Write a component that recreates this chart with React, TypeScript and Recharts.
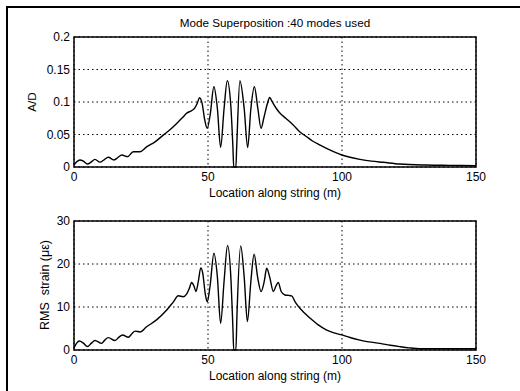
import React from 'react';
import { LineChart, Line, XAxis, YAxis, CartesianGrid, ReferenceArea } from 'recharts';

// top panel: normalised amplitude A/D along the string
const adLoc = [0, 1, 2.2, 3.5, 5, 6.5, 7.8, 9.7, 11.2, 12.8, 14.9, 16.5, 17.8, 20, 22.1, 24.6, 27.1, 30, 33.3, 36, 38.3, 40.5, 42, 44, 45.1, 46, 46.8, 47.8, 48.8, 49.7, 50.8, 52.2, 53.5, 54.7, 56, 57.2, 58.5, 59.3, 59.6, 60.4, 60.7, 61.9, 63.5, 64.8, 66, 67.3, 68.6, 69.8, 70.8, 72.2, 73, 74, 75.5, 76.9, 79, 81.8, 84, 86.8, 89, 91.8, 95, 99.9, 103, 106.7, 111, 115.4, 121.6, 131.6, 140, 150];
const adVal = [0.003, 0.008, 0.0108, 0.009, 0.0046, 0.008, 0.0118, 0.0075, 0.011, 0.0149, 0.0108, 0.015, 0.0185, 0.0159, 0.0235, 0.0235, 0.031, 0.038, 0.049, 0.058, 0.067, 0.076, 0.0826, 0.087, 0.091, 0.098, 0.1066, 0.098, 0.072, 0.0595, 0.08, 0.1235, 0.09, 0.0303, 0.09, 0.1328, 0.095, 0.03, 0, 0, 0.03, 0.1328, 0.09, 0.03, 0.09, 0.1235, 0.09, 0.0595, 0.075, 0.098, 0.107, 0.1, 0.09, 0.0826, 0.075, 0.0646, 0.055, 0.0466, 0.04, 0.0338, 0.027, 0.0185, 0.015, 0.0118, 0.009, 0.0072, 0.0046, 0.003, 0.0025, 0.002];

// bottom panel: RMS strain (microstrain)
const strainLoc = [0, 1, 2, 3.5, 5, 6.5, 7.8, 10.3, 11.5, 12.8, 15.3, 16.8, 18.1, 20.3, 21.6, 22.8, 24.6, 27.1, 30.8, 34.6, 37.1, 38.9, 40.7, 42, 43, 43.9, 44.8, 45.5, 46.4, 47.3, 48, 49, 49.7, 50.8, 52.2, 53.5, 54.7, 56, 57.3, 58.6, 59.3, 59.6, 60.4, 60.8, 62.2, 63.5, 64.7, 66, 67.2, 68.5, 69.8, 71, 71.9, 73, 74.4, 75.3, 76.2, 77.3, 78.7, 80, 81.2, 82.5, 84.3, 86, 88.1, 91, 94.3, 97, 99.9, 103, 106.7, 110, 114.2, 118, 121.6, 125, 129, 140, 150];
const strainVal = [0.5, 1.6, 2.1, 1.6, 0.8, 1.6, 2.2, 1.55, 2.3, 2.87, 2.2, 3.0, 3.5, 2.95, 3.8, 4.4, 4.2, 5.4, 7.0, 9.3, 11.2, 12.6, 12.4, 13.0, 14.3, 15.7, 14.8, 13.6, 16, 19.1, 18, 13, 11.2, 15, 22.5, 17, 6.2, 16, 24.3, 16, 5, 0, 0, 8, 24.2, 17, 6.6, 16, 22.3, 17, 13.6, 16, 19, 17, 13.6, 14.8, 15.7, 13.6, 12.8, 12.7, 12.6, 11.2, 9.7, 8.6, 7.4, 5.9, 4.65, 4.0, 3.5, 2.9, 2.3, 1.9, 1.55, 1.1, 0.77, 0.5, 0.3, 0.3, 0.3];

const xTicks = [0, 50, 100, 150];
const adTicks = [0, 0.05, 0.1, 0.15, 0.2];
const strainTicks = [0, 10, 20, 30];

const title = 'Mode Superposition :40 modes used';
const xTitle = 'Location along string (m)';

const font = '"Liberation Sans", Arial, sans-serif';
const tickStyle = { fontSize: 12, fill: '#000', fontFamily: font };

function Panel({ data, yTicks, yMax, top, height, mTop, xH }: any) {
  return (
    <div style={{ position: 'absolute', left: 0, top }}>
      <LineChart width={520} height={height} data={data} margin={{ top: mTop, right: 44, bottom: 0, left: 0 }}>
        <CartesianGrid stroke="#000" strokeDasharray="1.5 3" strokeWidth={1} />
        <XAxis type="number" dataKey="x" domain={[0, 150]} ticks={xTicks} height={xH}
          axisLine={false} tickLine={false} tickSize={0} tickMargin={5} tick={tickStyle} />
        <YAxis type="number" domain={[0, yMax]} ticks={yTicks} width={74}
          axisLine={false} tickLine={false} tickSize={0} tickMargin={4} tick={tickStyle} />
        <ReferenceArea x1={0} x2={150} y1={0} y2={yMax} fill="none" stroke="#000" strokeWidth={1.5} />
        <Line type="monotone" dataKey="y" stroke="#000" strokeWidth={1.4} dot={false} isAnimationActive={false} />
      </LineChart>
    </div>
  );
}

export default function App() {
  const adData = adLoc.map((x, i) => ({ x, y: adVal[i] }));
  const strainData = strainLoc.map((x, i) => ({ x, y: strainVal[i] }));
  const txt: React.CSSProperties = { position: 'absolute', fontFamily: font, fontSize: 11.7, color: '#000', whiteSpace: 'nowrap' };
  return (
    <div style={{ position: 'absolute', left: 0, top: 0, width: 520, height: 391, background: '#fff', overflow: 'hidden' }}>
      <div style={{ position: 'absolute', left: 6, top: 6, width: 520, height: 400, borderTop: '2px solid #000', borderLeft: '2px solid #000' }} />
      <Panel data={adData} yTicks={adTicks} yMax={0.2} top={0} height={205} mTop={37} xH={38} />
      <Panel data={strainData} yTicks={strainTicks} yMax={30} top={205} height={186} mTop={16} xH={41} />
      <div style={{ ...txt, left: 275, top: 16, transform: 'translateX(-50%)' }}>{title}</div>
      <div style={{ ...txt, fontSize: 12, left: 275, top: 186, transform: 'translateX(-50%)' }}>{xTitle}</div>
      <div style={{ ...txt, fontSize: 12, left: 275, top: 369, transform: 'translateX(-50%)' }}>{xTitle}</div>
      <div style={{ ...txt, left: 31, top: 102, transform: 'translate(-50%, -50%) rotate(-90deg)' }}>A/D</div>
      <div style={{ ...txt, fontSize: 12.5, left: 45, top: 285, transform: 'translate(-50%, -50%) rotate(-90deg)' }}>RMS&nbsp; strain (με)</div>
    </div>
  );
}
